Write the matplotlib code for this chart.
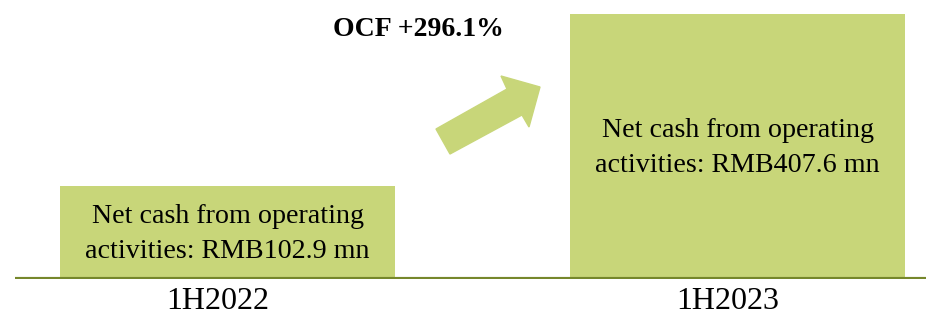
import matplotlib
matplotlib.use("Agg")
import matplotlib.pyplot as plt
import matplotlib.patches as mpatches
import matplotlib.transforms as mtransforms

periods = ["1H2022", "1H2023"]
ocf_values = [102.9, 407.6]          # RMB mn
bar_heights = [35.1, 100.0]          # drawn heights as in the picture (not to scale)
growth_label = "OCF +296.1%"

bar_color = "#c8d679"
line_color = "#76872b"
serif = ["Liberation Serif", "DejaVu Serif"]

W, H = 926, 319
fig = plt.figure(figsize=(W / 100, H / 100), dpi=100)
ax = fig.add_axes([15 / W, 40 / H, 1 - 15 / W, 279 / H])
ax.set_xlim(-212.5 / 510, 1 + 188.5 / 510)
ax.set_ylim(0, 279 / 265 * 100)

x = list(range(len(periods)))
ax.bar(x, bar_heights, width=335 / 510, color=bar_color, zorder=2)
for xi, h, v in zip(x, bar_heights, ocf_values):
    ax.text(xi, h / 2 - 0.6,
            f"Net cash from operating\nactivities: RMB{v:.1f} mn",
            ha="center", va="center", fontsize=20.2, family=serif,
            linespacing=1.5, zorder=3)

ax.axhline(0, color=line_color, lw=3, zorder=4)
for s in ax.spines.values():
    s.set_visible(False)
ax.set_yticks([])
ax.set_xticks(x)
ax.set_xticklabels(periods, fontsize=23, family=serif)
ax.tick_params(axis="x", length=0, pad=6)
shift = mtransforms.ScaledTranslation(-10 / 100, 0, fig.dpi_scale_trans)
for lab in ax.get_xticklabels():
    lab.set_transform(lab.get_transform() + shift)

# arrow (pixel coords, y from top)
pts = [(436, 129), (450, 154), (522, 115), (529, 127), (540, 87),
       (501, 76), (507, 89)]
poly = mpatches.Polygon([(px / W, 1 - py / H) for px, py in pts],
                        closed=True, transform=fig.transFigure,
                        color=bar_color, zorder=5)
fig.patches.append(poly)

fig.text(418 / W, 1 - 30 / H, growth_label, ha="center", va="center",
         fontsize=20, fontweight="bold", family=serif)

fig.savefig("out.png", dpi=100)
